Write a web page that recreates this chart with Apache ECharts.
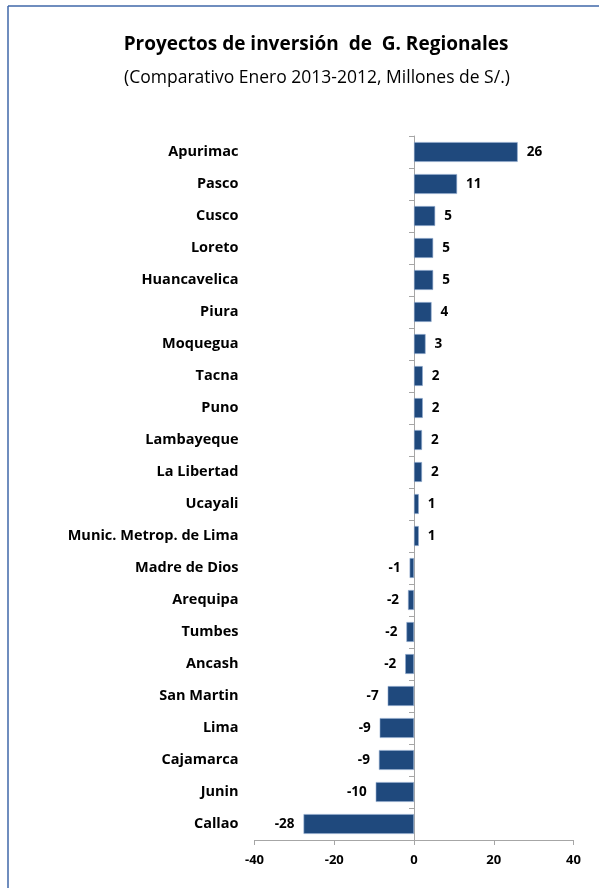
<!DOCTYPE html>
<html>
<head>
<meta charset="utf-8">
<script src="https://cdn.jsdelivr.net/npm/echarts@6/dist/echarts.min.js"></script>
<style>
html,body{margin:0;padding:0;background:#fff;}
#c{width:599px;height:888px;}
</style>
</head>
<body>
<div id="c"></div>
<script>
var categories = ["Apurimac","Pasco","Cusco","Loreto","Huancavelica","Piura","Moquegua","Tacna","Puno","Lambayeque","La Libertad","Ucayali","Munic. Metrop. de Lima","Madre de Dios","Arequipa","Tumbes","Ancash","San Martin","Lima","Cajamarca","Junin","Callao"];
var values = [26.0, 10.8, 5.3, 4.8, 4.8, 4.4, 2.9, 2.2, 2.2, 2.0, 2.0, 1.2, 1.2, -1.1, -1.5, -1.9, -2.2, -6.6, -8.6, -8.8, -9.6, -27.7];
var xTicks = [-40, -20, 0, 20, 40];
var titleText = "Proyectos de inversión  de  G. Regionales";
var subtitleText = "(Comparativo Enero 2013-2012, Millones de S/.)";

var FONT = "Open Sans";
var chart = echarts.init(document.getElementById('c'), null, {renderer: 'canvas'});

var seriesData = values.map(function (v) {
  return {
    value: v,
    label: { position: v < 0 ? 'left' : 'right' }
  };
});

chart.setOption({
  animation: false,
  backgroundColor: '#ffffff',
  title: [
    {
      text: titleText,
      left: 311, top: 30, textAlign: 'center',
      textStyle: { fontFamily: FONT, fontWeight: 'bold', fontSize: 19, color: '#000' }
    },
    {
      text: subtitleText,
      left: 312, top: 64, textAlign: 'center',
      textStyle: { fontFamily: FONT, fontWeight: 'normal', fontSize: 17.5, color: '#000' }
    }
  ],
  graphic: [
    { type: 'line', shape: { x1: 8, y1: 6, x2: 599, y2: 6 }, style: { stroke: '#3f67a8', lineWidth: 1.5 } },
    { type: 'line', shape: { x1: 8, y1: 6, x2: 8, y2: 888 }, style: { stroke: '#3f67a8', lineWidth: 1.5 } }
  ],
  grid: { left: 254.5, right: 25.5, top: 136, bottom: 48, containLabel: false },
  xAxis: {
    type: 'value',
    min: -40, max: 40, interval: 20,
    axisLine: { show: true, lineStyle: { color: '#a6a6a6', width: 1 } },
    axisTick: { show: true, length: 5, lineStyle: { color: '#a6a6a6' } },
    splitLine: { show: false },
    axisLabel: {
      margin: 14,
      fontFamily: FONT, fontWeight: 'bold', fontSize: 13, color: '#000',
      formatter: function (v) { return xTicks.indexOf(v) >= 0 ? String(v) : ''; }
    }
  },
  yAxis: [
    {
      type: 'category',
      data: categories,
      inverse: true,
      position: 'left',
      axisLine: { show: false, onZero: false },
      axisTick: { show: false },
      axisLabel: {
        margin: 16,
        fontFamily: FONT, fontWeight: 'bold', fontSize: 14.5, color: '#000'
      }
    },
    {
      type: 'category',
      data: categories,
      inverse: true,
      position: 'right',
      axisLine: { show: true, onZero: true, lineStyle: { color: '#a6a6a6', width: 1 } },
      axisTick: { show: true, inside: true, length: 5, lineStyle: { color: '#a6a6a6' } },
      axisLabel: { show: false }
    }
  ],
  series: [
    {
      type: 'bar',
      yAxisIndex: 0,
      data: seriesData,
      barCategoryGap: '38%',
      itemStyle: { color: '#1f497d', borderColor: '#8ea9cf', borderWidth: 0.6 },
      label: {
        show: true,
        distance: 9,
        fontFamily: FONT, fontWeight: 'bold', fontSize: 13.5, color: '#000',
        formatter: function (p) { return Number(p.value).toFixed(0); }
      }
    }
  ]
});
</script>
</body>
</html>
